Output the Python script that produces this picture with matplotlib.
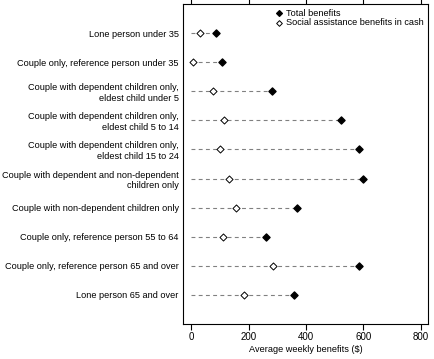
import matplotlib
matplotlib.use("Agg")
import matplotlib.pyplot as plt

plt.rcParams["font.family"] = ["Liberation Sans", "DejaVu Sans"]
plt.rcParams["font.size"] = 6.6

categories = [
    "Lone person under 35",
    "Couple only, reference person under 35",
    "Couple with dependent children only,\neldest child under 5",
    "Couple with dependent children only,\neldest child 5 to 14",
    "Couple with dependent children only,\neldest child 15 to 24",
    "Couple with dependent and non-dependent\nchildren only",
    "Couple with non-dependent children only",
    "Couple only, reference person 55 to 64",
    "Couple only, reference person 65 and over",
    "Lone person 65 and over",
]
total_benefits = [85, 106, 280, 522, 583, 600, 368, 261, 586, 359]
social_cash = [29, 7, 77, 114, 100, 130, 156, 109, 285, 184]
x_ticks = [0, 200, 400, 600, 800]

fig = plt.figure(figsize=(4.35, 3.59), dpi=100)
ax = fig.add_axes([0.4207, 0.0975, 0.5639, 0.8914])

ys = list(range(len(categories)))
for y, tot in zip(ys, total_benefits):
    ax.plot([0, tot], [y, y], color="#808080", lw=0.8, ls=(0, (3.5, 3)), zorder=1)

ax.scatter(total_benefits, ys, marker="D", s=13, color="black", zorder=3,
           label="Total benefits")
ax.scatter(social_cash, ys, marker="D", s=13, facecolor="white",
           edgecolor="black", linewidths=0.7, zorder=3,
           label="Social assistance benefits in cash")

ax.set_yticks(ys)
ax.set_yticklabels(categories, ha="right")
ax.tick_params(axis="y", length=0, pad=3)
ax.set_ylim(len(categories), -1)

ax.set_xlim(-29, 826)
ax.set_xticks(x_ticks)
ax.tick_params(axis="x", direction="out", length=4, width=0.8,
               top=True, labeltop=False, pad=2, labelsize=7)
ax.set_xlabel("Average weekly benefits ($)", labelpad=2)

for sp in ax.spines.values():
    sp.set_linewidth(0.8)

ax.legend(loc="upper right", frameon=False, handletextpad=0.3,
          borderaxespad=0.3, labelspacing=0.1, handlelength=1,
          borderpad=0.2, markerscale=0.8)

fig.savefig("out.png", dpi=100)
